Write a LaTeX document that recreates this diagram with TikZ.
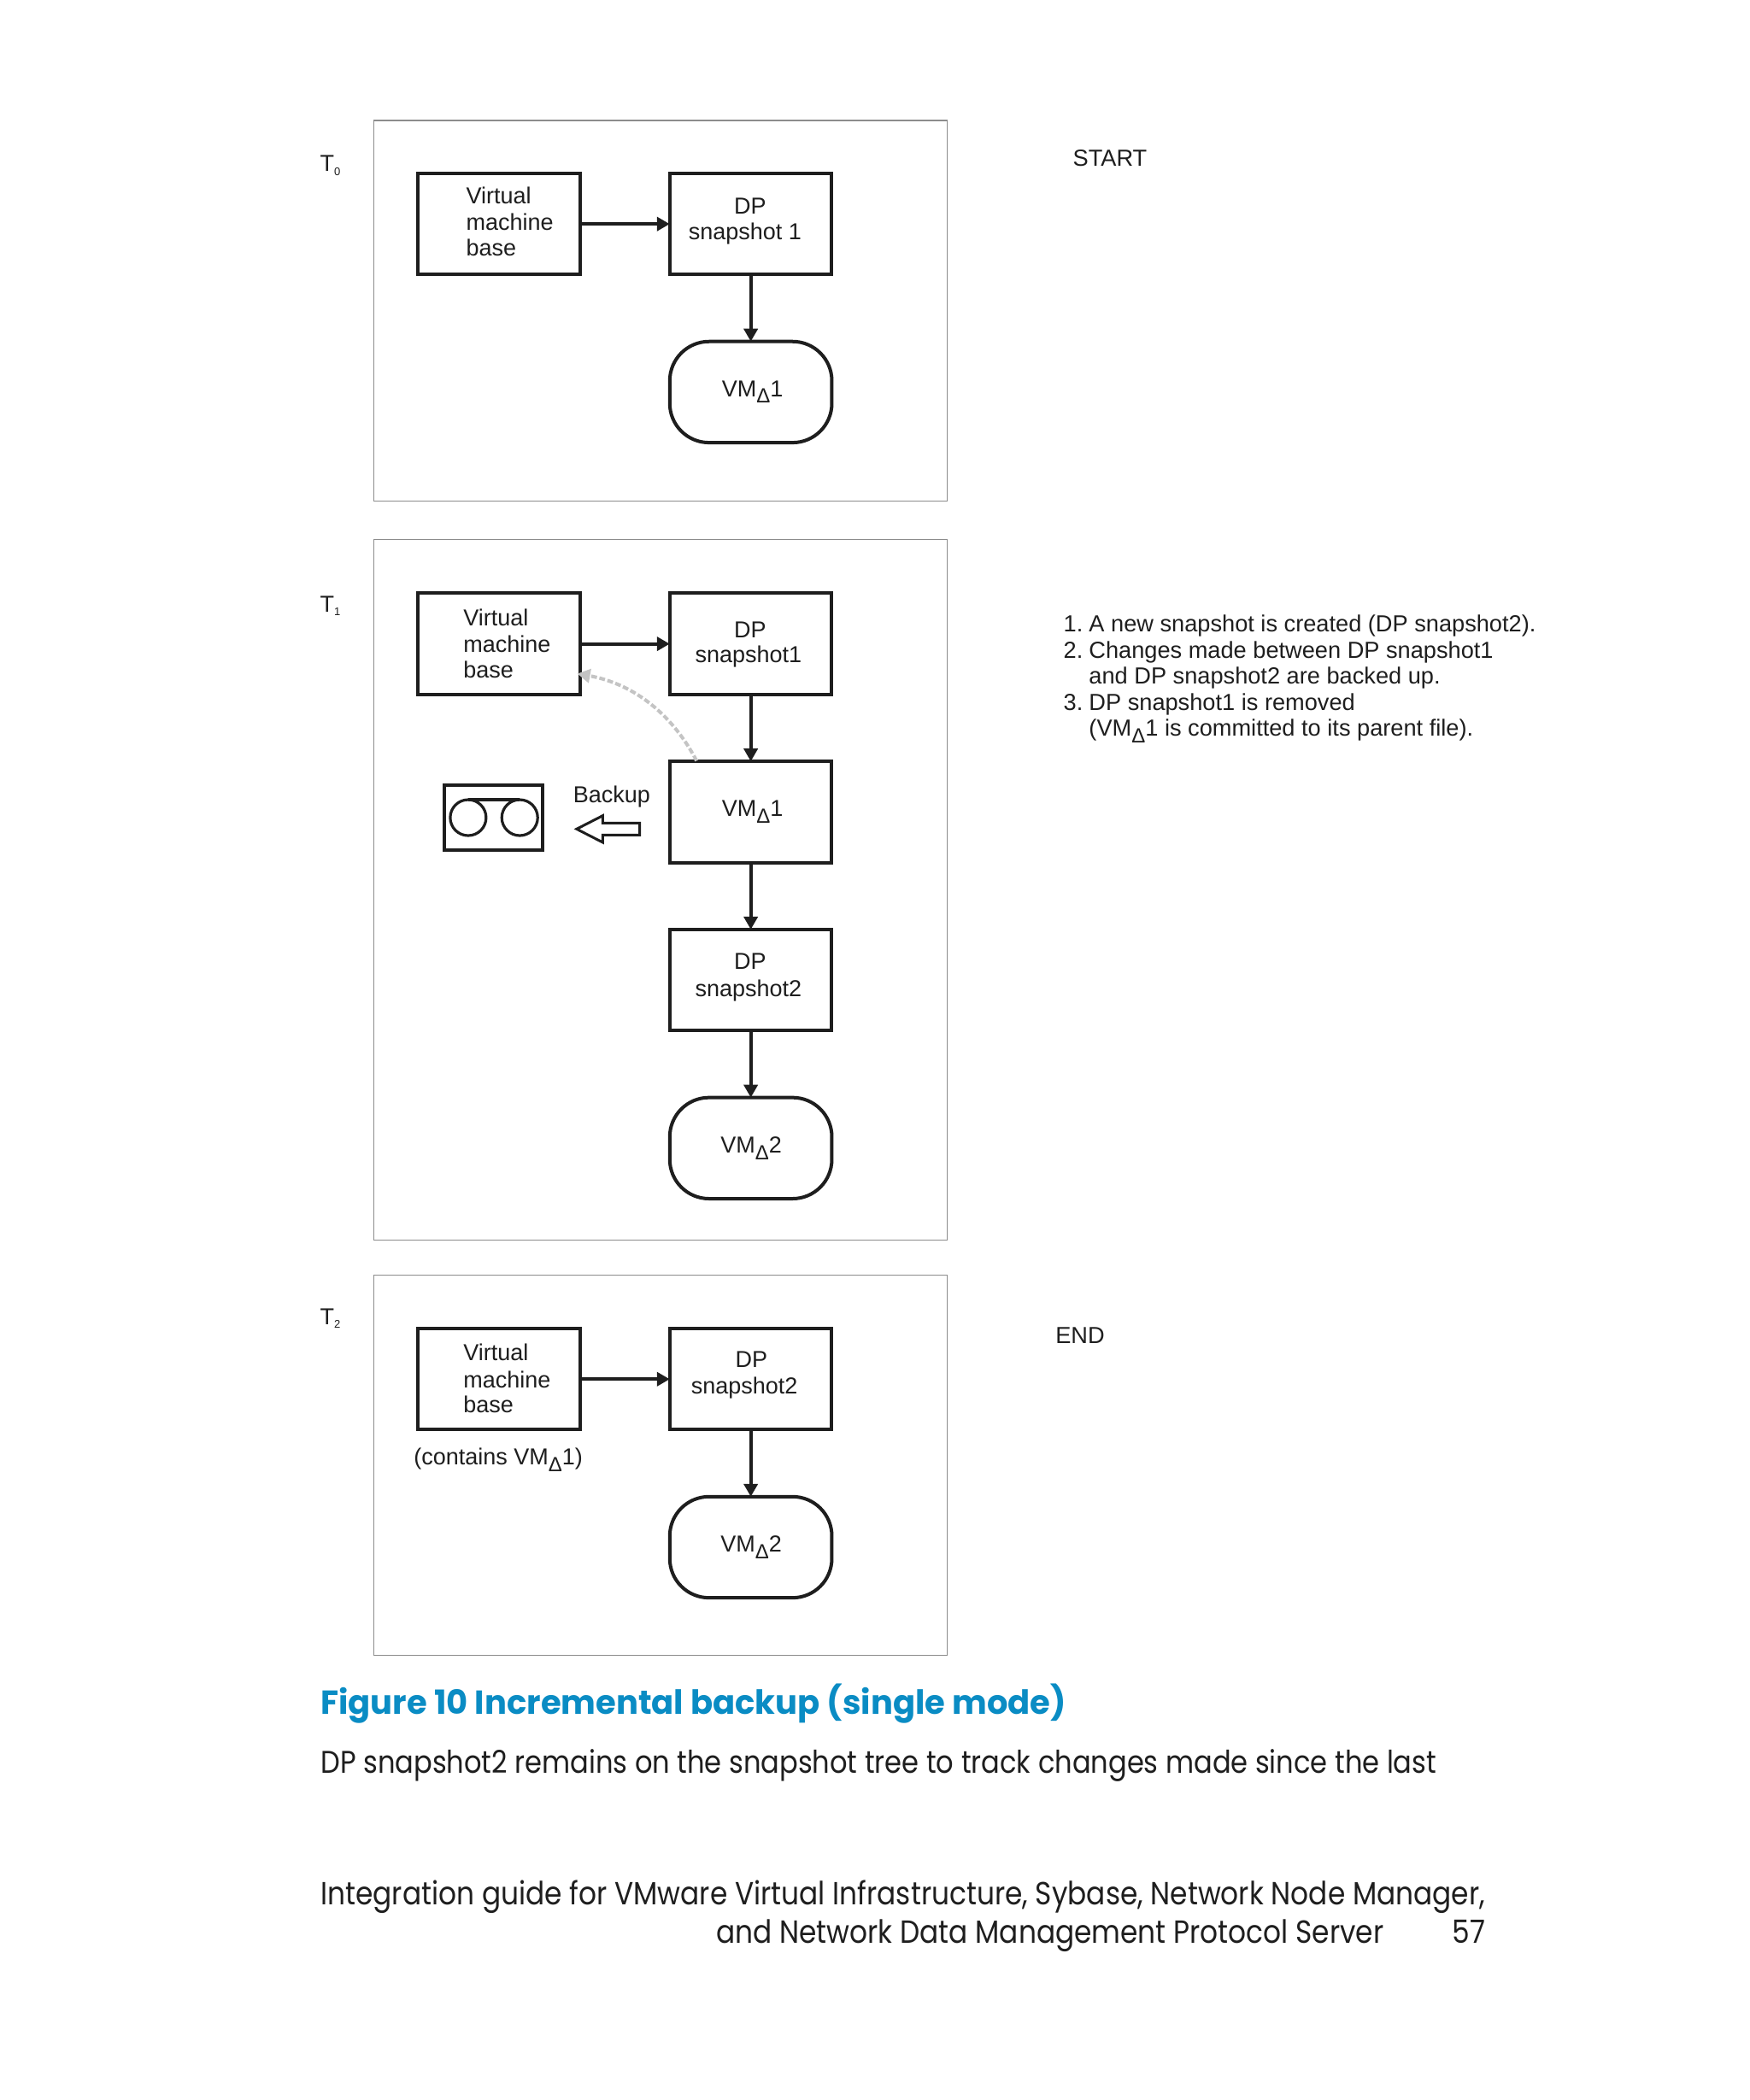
\documentclass[tikz,border=0pt]{standalone}
\usepackage{fontspec}
\setmainfont{Liberation Sans}
\newfontfamily\futfont[FakeStretch=0.875]{Poppins}
\newfontfamily\futcap[FakeStretch=0.987]{Poppins}
\usetikzlibrary{arrows.meta}
\definecolor{ink}{HTML}{1E1E1E}
\definecolor{panelgray}{HTML}{8C8C8C}
\definecolor{hpblue}{HTML}{0A8CC4}
\definecolor{curvegray}{HTML}{C4C4C4}
\newcommand{\dlt}{\raisebox{-3.8pt}{\fontsize{12}{12}\selectfont Δ}}
\newcommand{\tsub}[1]{\raisebox{-2.2pt}{\fontsize{6.5}{6.5}\selectfont #1}}
\newcommand{\boxn}[6][vbox]{\node[#1,minimum width=#5*0.784pt,minimum height=#6*0.784pt] (#2) at (#3+#5/2,#4+#6/2) {};}
\tikzset{
  x=0.784pt,y=-0.784pt,
  panel/.style={draw=panelgray,line width=0.65pt,rectangle,inner sep=0pt,outer sep=0pt},
  vbox/.style={draw=ink,line width=2pt,rectangle,inner sep=0pt,outer sep=0pt},
  vround/.style={vbox,rounded corners=23pt},
  arr/.style={draw=ink,line width=2pt,-{Triangle[length=7.5pt,width=8pt]}},
  lbl/.style={anchor=base west,inner sep=0pt,outer sep=0pt,text=ink,font=\fontsize{13.5}{16}\selectfont},
  note/.style={lbl,font=\fontsize{13.6}{16}\selectfont},
  fut/.style={anchor=base west,inner sep=0pt,outer sep=0pt,text=ink,font=\futfont\fontsize{18.75}{22}\selectfont},
}
\begin{document}
\begin{tikzpicture}
\useasboundingbox[fill=white] (0,0) rectangle (1306,1568);

% panels
\boxn[panel]{p0}{279}{90}{428}{284}
\boxn[panel]{p1}{279}{403}{428}{523}
\boxn[panel]{p2}{279}{952}{428}{284}

% time labels
\node[lbl] (t0) at (239,128) {T\tsub{0}};
\node[lbl] (t1) at (239,457) {T\tsub{1}};
\node[lbl] (t2) at (239,989) {T\tsub{2}};

% panel 0
\boxn{a0}{312}{129.5}{121}{75.5}
\boxn{a1}{500}{129.5}{121}{75.5}
\boxn[vround]{a2}{500}{255}{121}{75.5}
\draw[arr] (a0.east) -- (a1.west);
\draw[arr] (a1.south) -- (a2.north);
\node[lbl] (a0t1) at (348,152) {Virtual};
\node[lbl] (a0t2) at (348,172) {machine};
\node[lbl] (a0t3) at (348,191) {base};
\node[lbl] (a1t1) at (548,160) {DP};
\node[lbl] (a1t2) at (514,179) {snapshot 1};
\node[lbl] (a2t) at (539,296) {VM\dlt1};
\node[note] (start) at (801,124) {START};

% panel 1
\boxn{b0}{312}{443}{121}{75.5}
\boxn{b1}{500}{443}{121}{75.5}
\boxn{b2}{500}{568.5}{121}{75.5}
\boxn{b3}{500}{694}{121}{75.5}
\boxn[vround]{b4}{500}{819.5}{121}{75.5}
\draw[arr] (b0.east) -- (b1.west);
\draw[arr] (b1.south) -- (b2.north);
\draw[arr] (b2.south) -- (b3.north);
\draw[arr] (b3.south) -- (b4.north);
\coordinate (cs) at (520,568);
\coordinate (ce) at (431,503);
\draw[draw=curvegray,line width=2pt,dash pattern=on 3.4pt off 1.5pt,-{Triangle[length=7.5pt,width=8pt,fill=curvegray]}] (cs) .. controls (500,530) and (470,510) .. (ce);
\node[lbl] (b0t1) at (346,467) {Virtual};
\node[lbl] (b0t2) at (346,487) {machine};
\node[lbl] (b0t3) at (346,506) {base};
\node[lbl] (b1t1) at (548,476) {DP};
\node[lbl] (b1t2) at (519,495) {snapshot1};
\node[lbl] (b2t) at (539,609.5) {VM\dlt1};
\node[lbl] (b3t1) at (548,724) {DP};
\node[lbl] (b3t2) at (519,744) {snapshot2};
\node[lbl] (b4t) at (538,861) {VM\dlt2};
% tape
\boxn{tape}{332}{586.5}{73}{48}
\node[draw=ink,line width=1.6pt,circle,minimum size=21pt,inner sep=0pt,outer sep=0pt] (r1) at (349.5,610.5) {};
\node[draw=ink,line width=1.6pt,circle,minimum size=21pt,inner sep=0pt,outer sep=0pt] (r2) at (388,610.5) {};
\draw[draw=ink,line width=1.6pt] (r1.north) -- (r2.north);
\node[lbl] (backup) at (428,599) {Backup};
\draw[draw=ink,line width=1.5pt,fill=white] (430.5,619) -- (450,609) -- (450,614.5) -- (477.5,614.5) -- (477.5,623.5) -- (450,623.5) -- (450,629) -- cycle;

% notes
\node[note] (n1) at (794,471.5) {1.};
\node[note] (n1t) at (813,471.5) {A new snapshot is created (DP snapshot2).};
\node[note] (n2) at (794,491.5) {2.};
\node[note] (n2t) at (813,491.5) {Changes made between DP snapshot1};
\node[note] (n2u) at (813,510.5) {and DP snapshot2 are backed up.};
\node[note] (n3) at (794,530.5) {3.};
\node[note] (n3t) at (813,530.5) {DP snapshot1 is removed};
\node[note] (n3u) at (813,549.5) {(VM\dlt1 is committed to its parent file).};

% panel 2
\boxn{c0}{312}{992}{121}{75.5}
\boxn{c1}{500}{992}{121}{75.5}
\boxn[vround]{c2}{500}{1117.5}{121}{75.5}
\draw[arr] (c0.east) -- (c1.west);
\draw[arr] (c1.south) -- (c2.north);
\node[lbl] (c0t1) at (346,1016) {Virtual};
\node[lbl] (c0t2) at (346,1036) {machine};
\node[lbl] (c0t3) at (346,1055) {base};
\node[lbl] (c1t1) at (549,1021) {DP};
\node[lbl] (c1t2) at (516,1041) {snapshot2};
\node[lbl] (c2t) at (538,1159) {VM\dlt2};
\node[lbl] (contains) at (309,1094) {(contains VM\dlt1)};
\node[note] (end) at (788,1003) {END};

% page text
\node[fut,text=hpblue,font=\futcap\bfseries\fontsize{19.5}{22}\selectfont] (cap) at (239.5,1280) {Figure 10 Incremental backup (single mode)};
\node[fut,font=\futfont\fontsize{18.35}{22}\selectfont] (body) at (239.5,1324) {DP snapshot2 remains on the snapshot tree to track changes made since the last};
\node[fut] (f1) at (239.5,1422) {Integration guide for VMware Virtual Infrastructure, Sybase, Network Node Manager,};
\node[fut,anchor=base east] (f2) at (1033,1451) {and Network Data Management Protocol Server};
\node[fut,anchor=base east] (pg) at (1109,1451) {57};
\end{tikzpicture}
\end{document}
